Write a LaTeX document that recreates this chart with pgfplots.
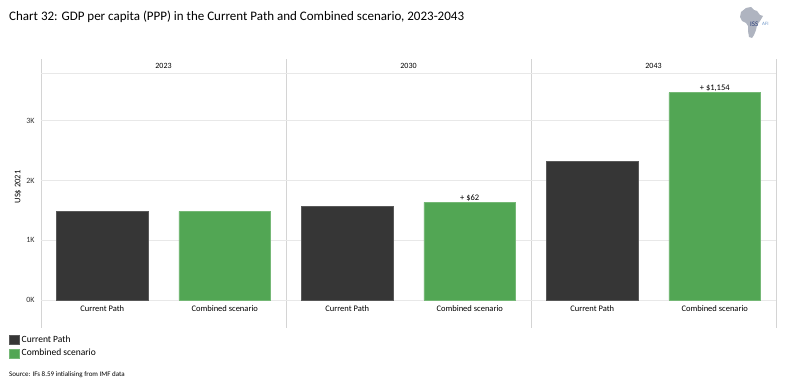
\documentclass[border=0pt]{standalone}
\usepackage{pgfplots}
\pgfplotsset{compat=1.18}
\usepackage{fontspec}
\setmainfont{Carlito}
\definecolor{cpdark}{RGB}{54,54,54}
\definecolor{csgreen}{RGB}{82,166,84}
\definecolor{gridc}{RGB}{232,232,232}
\definecolor{zeroc}{RGB}{220,220,220}
\definecolor{vgridc}{RGB}{212,212,212}
\definecolor{logogray}{RGB}{175,180,192}
\definecolor{logoblue}{RGB}{40,60,120}
\definecolor{logolight}{RGB}{110,150,200}
\begin{document}
\begin{tikzpicture}
\path (0pt,0pt) rectangle (786pt,387pt);
% title
\node[anchor=west,inner sep=0pt,font=\fontsize{13}{15}\selectfont] at (9pt,370pt) {Chart 32: GDP per capita (PPP) in the Current Path and Combined scenario, 2023-2043};
% logo
\fill[logogray] (746pt,379pt) -- (751pt,380pt) -- (754pt,377pt) -- (757pt,376pt) -- (760pt,372pt) -- (763pt,371pt) -- (760pt,366pt) -- (757pt,362pt) -- (756pt,357pt) -- (754pt,352pt) -- (752pt,349pt) -- (749pt,350pt) -- (748pt,356pt) -- (748pt,361pt) -- (746pt,364pt) -- (742pt,366pt) -- (740pt,370pt) -- (741pt,375pt) -- cycle;
\node[anchor=west,inner sep=0pt,text=logoblue,font=\fontsize{7}{8}\selectfont] at (750pt,363pt) {ISS};
\node[anchor=west,inner sep=0pt,text=logolight,font=\fontsize{5}{6}\selectfont] at (762pt,363pt) {AFI};
\begin{axis}[
  at={(41pt,59pt)}, anchor=south west,
  scale only axis, width=735pt, height=269pt,
  xmin=0, xmax=6, ymin=-467, ymax=4035,
  clip=false,
  axis line style={draw=none},
  major tick length=0pt,
  xtick={0,2,4,6}, xticklabels={},
  xmajorgrids, major x grid style={vgridc, line width=0.8pt},
  ytick={0,1000,2000,3000}, yticklabels={0K,1K,2K,3K},
  ymajorgrids, major y grid style={gridc, line width=1pt},
  extra y ticks={0,3794}, extra y tick labels={},
  extra y tick style={grid=major, major grid style={zeroc, line width=1pt}},
  yticklabel style={font=\fontsize{8}{9}\selectfont, text=black!80, xshift=-3pt},
  /pgf/number format/assume math mode=true,
  legend style={at={(-0.0435,-0.022)}, anchor=north west, draw=none, fill=none,
    font=\fontsize{9.5}{11}\selectfont, row sep=1pt, inner sep=0pt,
    legend cell align=left},
  legend image code/.code={\fill[#1] (0pt,-4.5pt) rectangle (10pt,4.5pt);},
]
\addplot[ybar, bar width=0.75, bar shift=0pt, fill=cpdark, draw=black!65, line width=0.5pt]
  coordinates {(0.5,1484) (2.5,1573) (4.5,2320)};
\addlegendentry{Current Path}
\addplot[ybar, bar width=0.75, bar shift=0pt, fill=csgreen, draw=csgreen!80!white, line width=0.5pt]
  coordinates {(1.5,1484) (3.5,1635) (5.5,3474)};
\addlegendentry{Combined scenario}
% header labels
\node[font=\fontsize{8}{9}\selectfont] at (axis cs:1,3912) {2023};
\node[font=\fontsize{8}{9}\selectfont] at (axis cs:3,3912) {2030};
\node[font=\fontsize{8}{9}\selectfont] at (axis cs:5,3912) {2043};
% category labels
\node[font=\fontsize{8.5}{10}\selectfont] at (axis cs:0.5,-150) {Current Path};
\node[font=\fontsize{8.5}{10}\selectfont] at (axis cs:1.5,-150) {Combined scenario};
\node[font=\fontsize{8.5}{10}\selectfont] at (axis cs:2.5,-150) {Current Path};
\node[font=\fontsize{8.5}{10}\selectfont] at (axis cs:3.5,-150) {Combined scenario};
\node[font=\fontsize{8.5}{10}\selectfont] at (axis cs:4.5,-150) {Current Path};
\node[font=\fontsize{8.5}{10}\selectfont] at (axis cs:5.5,-150) {Combined scenario};
% difference labels
\node[anchor=south,inner sep=1pt,font=\fontsize{8.5}{10}\selectfont] at (axis cs:3.5,1635) {+ \$62};
\node[anchor=south,inner sep=1pt,font=\fontsize{8.5}{10}\selectfont] at (axis cs:5.5,3474) {+ \$1,154};
\end{axis}
% y label
\node[rotate=90,font=\fontsize{8.5}{10}\selectfont] at (18pt,200pt) {US\$ 2021};
% source
\node[anchor=west,inner sep=0pt,font=\fontsize{7}{8}\selectfont] at (9pt,12pt) {Source: IFs 8.59 intialising from IMF data};
\end{tikzpicture}
\end{document}
